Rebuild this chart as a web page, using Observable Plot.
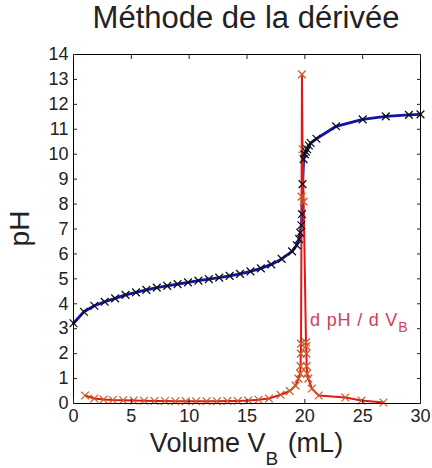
<!DOCTYPE html>
<html><head><meta charset="utf-8">
<script src="https://cdn.jsdelivr.net/npm/d3@7"></script>
<script src="https://cdn.jsdelivr.net/npm/@observablehq/plot@0.6"></script>
<style>
html,body{margin:0;padding:0;background:#fff;}
#wrap{width:432px;height:468px;position:relative;overflow:hidden;font-family:"Liberation Sans",Arial,sans-serif;}
#title{position:absolute;left:60px;width:372px;top:0;height:45px;text-align:center;font-size:31px;line-height:31px;padding-top:2px;color:#222;box-sizing:border-box;white-space:nowrap;}
#chart{position:absolute;left:0;top:45px;}
</style></head><body>
<div id="wrap"><div id="title">Méthode de la dérivée</div><div id="chart"></div></div>
<script>
// Titration curve pH = f(V_B)
const blueV  = [0, 0.9, 1.8, 2.7, 3.6, 4.5, 5.4, 6.3, 7.2, 8.1, 9.0, 9.9, 10.8, 11.7, 12.6, 13.5, 14.4, 15.3, 16.2, 17.1, 18.0, 18.9, 19.3, 19.5, 19.6, 19.7, 19.75, 19.8, 19.9, 20.0, 20.1, 20.2, 20.35, 20.5, 21.0, 22.7, 25.0, 27.0, 29.0, 30.0];
const bluePH = [3.22, 3.68, 3.92, 4.08, 4.22, 4.36, 4.46, 4.56, 4.65, 4.72, 4.79, 4.86, 4.93, 4.99, 5.05, 5.12, 5.2, 5.3, 5.42, 5.58, 5.8, 6.1, 6.35, 6.6, 6.85, 7.15, 7.6, 8.8, 9.8, 10.0, 10.1, 10.2, 10.35, 10.45, 10.62, 11.12, 11.4, 11.52, 11.58, 11.6];
// Derivative dpH/dV_B
const redV = [1.0, 1.8, 2.6, 3.4, 4.3, 5.2, 6.1, 7.0, 7.9, 8.8, 9.7, 10.6, 11.5, 12.4, 13.3, 14.2, 15.1, 16.0, 16.9, 17.9, 18.7, 19.2, 19.45, 19.6, 19.63, 19.65, 19.67, 19.72, 19.75, 19.8, 19.9, 20.1, 20.12, 20.14, 20.16, 20.2, 20.3, 20.6, 21.2, 23.5, 24.9, 26.8];
const redD = [0.32, 0.2, 0.16, 0.14, 0.13, 0.12, 0.11, 0.1, 0.1, 0.09, 0.09, 0.09, 0.09, 0.09, 0.1, 0.1, 0.12, 0.15, 0.2, 0.35, 0.5, 0.72, 1.0, 1.2, 1.5, 2.0, 2.4, 8.3, 13.2, 10.2, 8.1, 2.45, 2.3, 2.0, 1.5, 1.2, 1.0, 0.6, 0.32, 0.24, 0.12, 0.04];
const xTicks = [0, 5, 10, 15, 20, 25, 30];
const yTicks = [0, 1, 2, 3, 4, 5, 6, 7, 8, 9, 10, 11, 12, 13, 14];
const annot = {v: 20.5, ph: 3.1, text: "d pH / d V", sub: "B"};

const blue = blueV.map((v, i) => ({v, ph: bluePH[i]}));
const red = redV.map((v, i) => ({v, d: redD[i]}));

const plot = Plot.plot({
  width: 432, height: 423,
  marginTop: 9, marginBottom: 65, marginLeft: 73, marginRight: 12,
  x: {domain: [0, 30]},
  y: {domain: [0, 14]},
  style: {fontFamily: "Liberation Sans, Arial, sans-serif", fontSize: "18px", color: "#222", background: "white"},
  marks: [
    Plot.line(blue, {x: "v", y: "ph", stroke: "#1212a8", strokeWidth: 2.8}),
    Plot.line(red, {x: "v", y: "d", stroke: "#e01818", strokeWidth: 2}),
    Plot.dot(red, {x: "v", y: "d", symbol: "times", r: 3.6, stroke: "#c8602a", strokeWidth: 1.3, fill: "none"}),
    Plot.dot(blue, {x: "v", y: "ph", symbol: "times", r: 3.6, stroke: "#111", strokeWidth: 1.3, fill: "none"}),
    Plot.frame({stroke: "#000", strokeWidth: 1}),
    Plot.axisX(xTicks, {anchor: "bottom", tickSize: 0, tickPadding: 6, label: null}),
    Plot.axisX(xTicks, {anchor: "bottom", tickSize: -4, tickFormat: () => "", label: null}),
    Plot.axisX(xTicks, {anchor: "top", tickSize: -4, tickFormat: () => "", label: null}),
    Plot.axisY(yTicks, {anchor: "left", tickSize: 0, tickPadding: 5, label: null}),
    Plot.axisY(yTicks, {anchor: "left", tickSize: -4, tickFormat: () => "", label: null}),
    Plot.axisY(yTicks, {anchor: "right", tickSize: -4, tickFormat: () => "", label: null})
  ]
});

const svg = d3.select(plot);
// drop the empty tick-label texts of the tick-only axes
svg.selectAll("text").filter(function () { return this.textContent === ""; }).remove();

const xs = plot.scale("x"), ys = plot.scale("y");
const cx = (xs.apply(0) + xs.apply(30)) / 2;
const cy = (ys.apply(0) + ys.apply(14)) / 2;

const xl = svg.append("text").attr("x", cx).attr("y", 407).attr("text-anchor", "middle")
  .attr("font-size", 27).attr("fill", "#222");
xl.append("tspan").text("Volume V");
xl.append("tspan").attr("dy", 13).attr("font-size", 19).text("B");
xl.append("tspan").attr("dy", -13).attr("dx", 2).text(" (mL)");

svg.append("text").attr("transform", `translate(29,${cy}) rotate(-90)`).attr("text-anchor", "middle")
  .attr("font-size", 28).attr("fill", "#222").text("pH");

const an = svg.append("text").attr("x", xs.apply(annot.v)).attr("y", ys.apply(annot.ph))
  .attr("text-anchor", "start")
  .attr("font-size", 18).attr("fill", "#d43c58").attr("letter-spacing", 0.8);
an.append("tspan").text(annot.text);
an.append("tspan").attr("dy", 6).attr("font-size", 14).text(annot.sub);

document.getElementById("chart").appendChild(plot);
</script>
</body></html>
